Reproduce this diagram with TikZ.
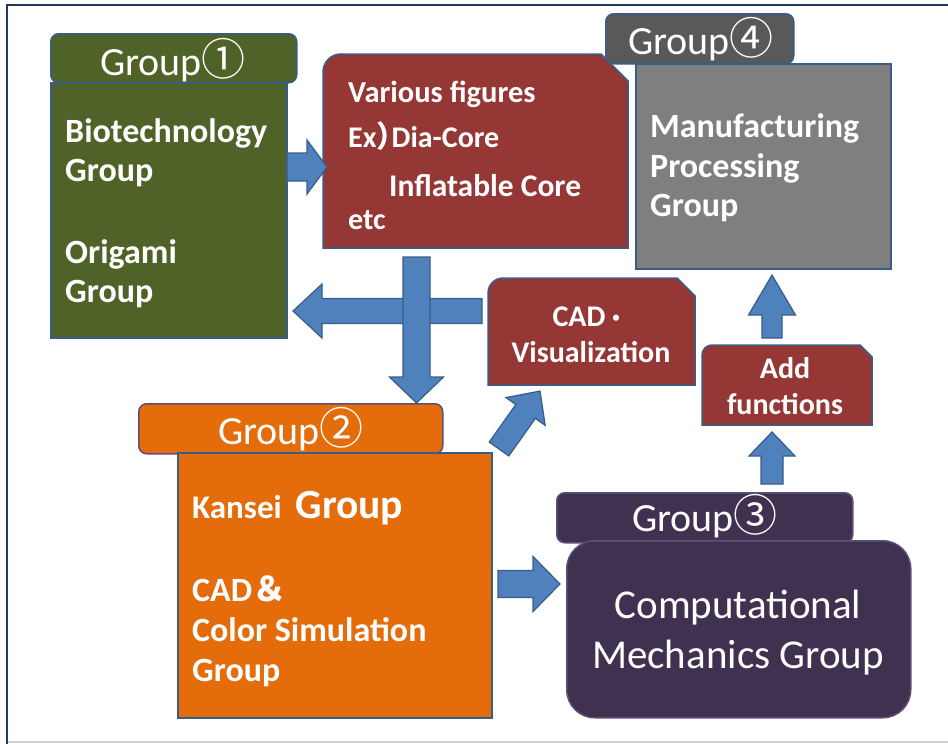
\documentclass[tikz,border=0pt]{standalone}
\usepackage{fontspec}
\setmainfont{Carlito}
\newfontfamily\cjk{Noto Sans CJK JP}
\newfontfamily\cjkhalf[RawFeature=+halt]{Noto Sans CJK JP}
\usetikzlibrary{calc}

\definecolor{grpolive}{HTML}{4F6228}
\definecolor{boxred}{HTML}{953735}
\definecolor{hdrgray}{HTML}{595959}
\definecolor{bodygray}{HTML}{7F7F7F}
\definecolor{grporange}{HTML}{E46C0A}
\definecolor{grppurple}{HTML}{403151}
\definecolor{boxline}{HTML}{385D8A}
\definecolor{purpleline}{HTML}{5C5078}
\definecolor{arrowblue}{HTML}{4F81BD}
\definecolor{arrowedge}{HTML}{385D8A}
\definecolor{framenavy}{HTML}{1F3864}
\definecolor{framegray}{HTML}{D0D0D0}

\tikzset{
  edge/.style={draw=boxline, line width=1.5pt},
  hdr/.style={edge, rounded corners=8pt, anchor=north west, inner sep=0pt},
  bodybox/.style={edge, anchor=north west, inner sep=0pt},
  txt/.style={text=white, anchor=base west, inner sep=0pt,
              font=\bfseries\fontsize{30}{30}\selectfont},
  bigtxt/.style={txt, font=\bfseries\fontsize{34}{34}\selectfont},
  orangetxt/.style={txt, font=\bfseries\fontsize{34}{34}\selectfont},
  hdrtxt/.style={text=white, anchor=base west, inner sep=0pt,
                 font=\fontsize{40}{40}\selectfont},
  mechtxt/.style={text=white, anchor=base, inner sep=0pt,
                  font=\fontsize{41}{41}\selectfont},
  blockarrow/.style={fill=arrowblue, draw=arrowedge, line width=1.2pt, line join=miter},
}

% circled group number, set a little larger than the word before it
\newcommand\grpnum[1]{{\cjk\fontsize{44}{44}\selectfont #1}}

% block arrow: tail x, tail y, angle, length, shaft half width, head half width, head length
\newcommand\blockarr[7]{%
  \draw[blockarrow, shift={(#1,#2)}, rotate=#3]
    (0,-#5) -- ({#4-#7},-#5) -- ({#4-#7},-#6) -- (#4,0) -- ({#4-#7},#6)
    -- ({#4-#7},#5) -- (0,#5) -- cycle;}

% red box with a rounded top-left and a snipped top-right corner:
% x1, y1, x2, y2, snip, radius
\newcommand\snipbox[6]{%
  \draw[edge, fill=boxred] (#1,#4) -- (#1,{#2+#6})
    .. controls (#1,{#2+0.448*#6}) and ({#1+0.448*#6},#2) .. ({#1+#6},#2)
    -- ({#3-#5},#2) -- (#3,{#2+#5}) -- (#3,#4) -- cycle;}

\begin{document}
\begin{tikzpicture}[x=1pt, y=-1pt]
\useasboundingbox (0,0) rectangle (948,744);
\fill[white] (0,0) rectangle (948,744);

% frame
\draw[framegray, line width=1.5pt] (7,742) -- (948,742);
\draw[framenavy, line width=2.5pt] (948,5) -- (7,5) -- (7,744);

% Group 1
\node[hdr, fill=grpolive, minimum width=246pt, minimum height=49pt] (g1head) at (50,33) {};
\node[bodybox, fill=grpolive, minimum width=236pt, minimum height=255pt] (g1body) at (50,82) {};
\node[hdrtxt] (g1title) at (100,75) {Group\grpnum{①}};
\node[bigtxt] (bio1) at (65,142) {Biotechnology};
\node[bigtxt] (bio2) at (65,181) {Group};
\node[bigtxt] (ori1) at (65,263) {Origami};
\node[bigtxt] (ori2) at (65,302) {Group};

% Group 4
\node[hdr, fill=hdrgray, minimum width=188pt, minimum height=50pt] (g4head) at (605,13) {};
\node[bodybox, fill=bodygray, minimum width=255pt, minimum height=205pt] (g4body) at (635,63) {};
\node[hdrtxt] (g4title) at (628,54) {Group\grpnum{④}};
\node[bigtxt] (man1) at (650,137) {Manufacturing};
\node[bigtxt] (man2) at (650,177) {Processing};
\node[bigtxt] (man3) at (650,216) {Group};

% Figures box
\snipbox{323}{54}{628}{248}{27}{18}
\node[txt, font=\bfseries\fontsize{30.5}{30.5}\selectfont] (fig1) at (348,102) {Various figures};
\node[txt, font=\bfseries\fontsize{30}{30}\selectfont] (fig2) at (348,147) {Ex{\cjkhalf\bfseries ）}Dia-Core};
\node[txt, font=\bfseries\fontsize{31.5}{31.5}\selectfont] (fig3) at (389,196) {Inflatable Core};
\node[txt, font=\bfseries\fontsize{30}{30}\selectfont] (fig4) at (348,229) {etc};

% CAD / visualization box
\snipbox{488}{278}{695}{385}{18}{15}
\node[txt, anchor=base] (cad1) at (590,326) {CAD{\cjk\bfseries\fontsize{22}{22}\selectfont ・}};
\node[txt, anchor=base] (cad2) at (591,362) {Visualization};

% Add functions box
\snipbox{702}{345}{872}{425}{12}{10}
\node[txt, anchor=base] (add1) at (785,378) {Add};
\node[txt, anchor=base] (add2) at (785,414) {functions};

% Group 2
\node[hdr, draw=purpleline, fill=grporange, minimum width=304pt, minimum height=50pt] (g2head) at (138,403) {};
\node[bodybox, fill=grporange, minimum width=314pt, minimum height=265pt] (g2body) at (177,452) {};
\node[hdrtxt] (g2title) at (218,444) {Group\grpnum{②}};
\node[txt] (kan) at (192,518) {{\fontsize{33}{33}\selectfont Kansei}\hspace{14pt}{\fontsize{41.5}{41.5}\selectfont Group}};
\node[orangetxt] (col1) at (192,601) {CAD{\cjk\bfseries ＆}};
\node[orangetxt] (col2) at (192,641) {Color Simulation};
\node[orangetxt] (col3) at (192,681) {Group};

% Group 3
\node[hdr, draw=purpleline, fill=grppurple, minimum width=296pt, minimum height=50pt] (g3head) at (556,492) {};
\node[bodybox, draw=purpleline, fill=grppurple, rounded corners=28pt, minimum width=344pt, minimum height=177pt] (g3body) at (566,540) {};
\node[hdrtxt] (g3title) at (632,531) {Group\grpnum{③}};
\node[mechtxt] (cm1) at (738,618) {Computational};
\node[mechtxt] (cm2) at (738,668) {Mechanics Group};

% block arrows
\blockarr{287}{167}{0}{40}{14}{27}{20}
\blockarr{482}{311}{180}{189}{12.5}{27}{29}
\blockarr{416.5}{257}{-90}{146}{13.5}{27}{26}
\blockarr{499}{449}{54.7}{71}{12}{24}{25}
\blockarr{498}{584}{0}{62}{13.5}{27.5}{27}
\blockarr{772}{484}{90}{52}{11}{23}{24}
\blockarr{772}{338}{90}{63}{10}{23.5}{40}
\end{tikzpicture}
\end{document}
